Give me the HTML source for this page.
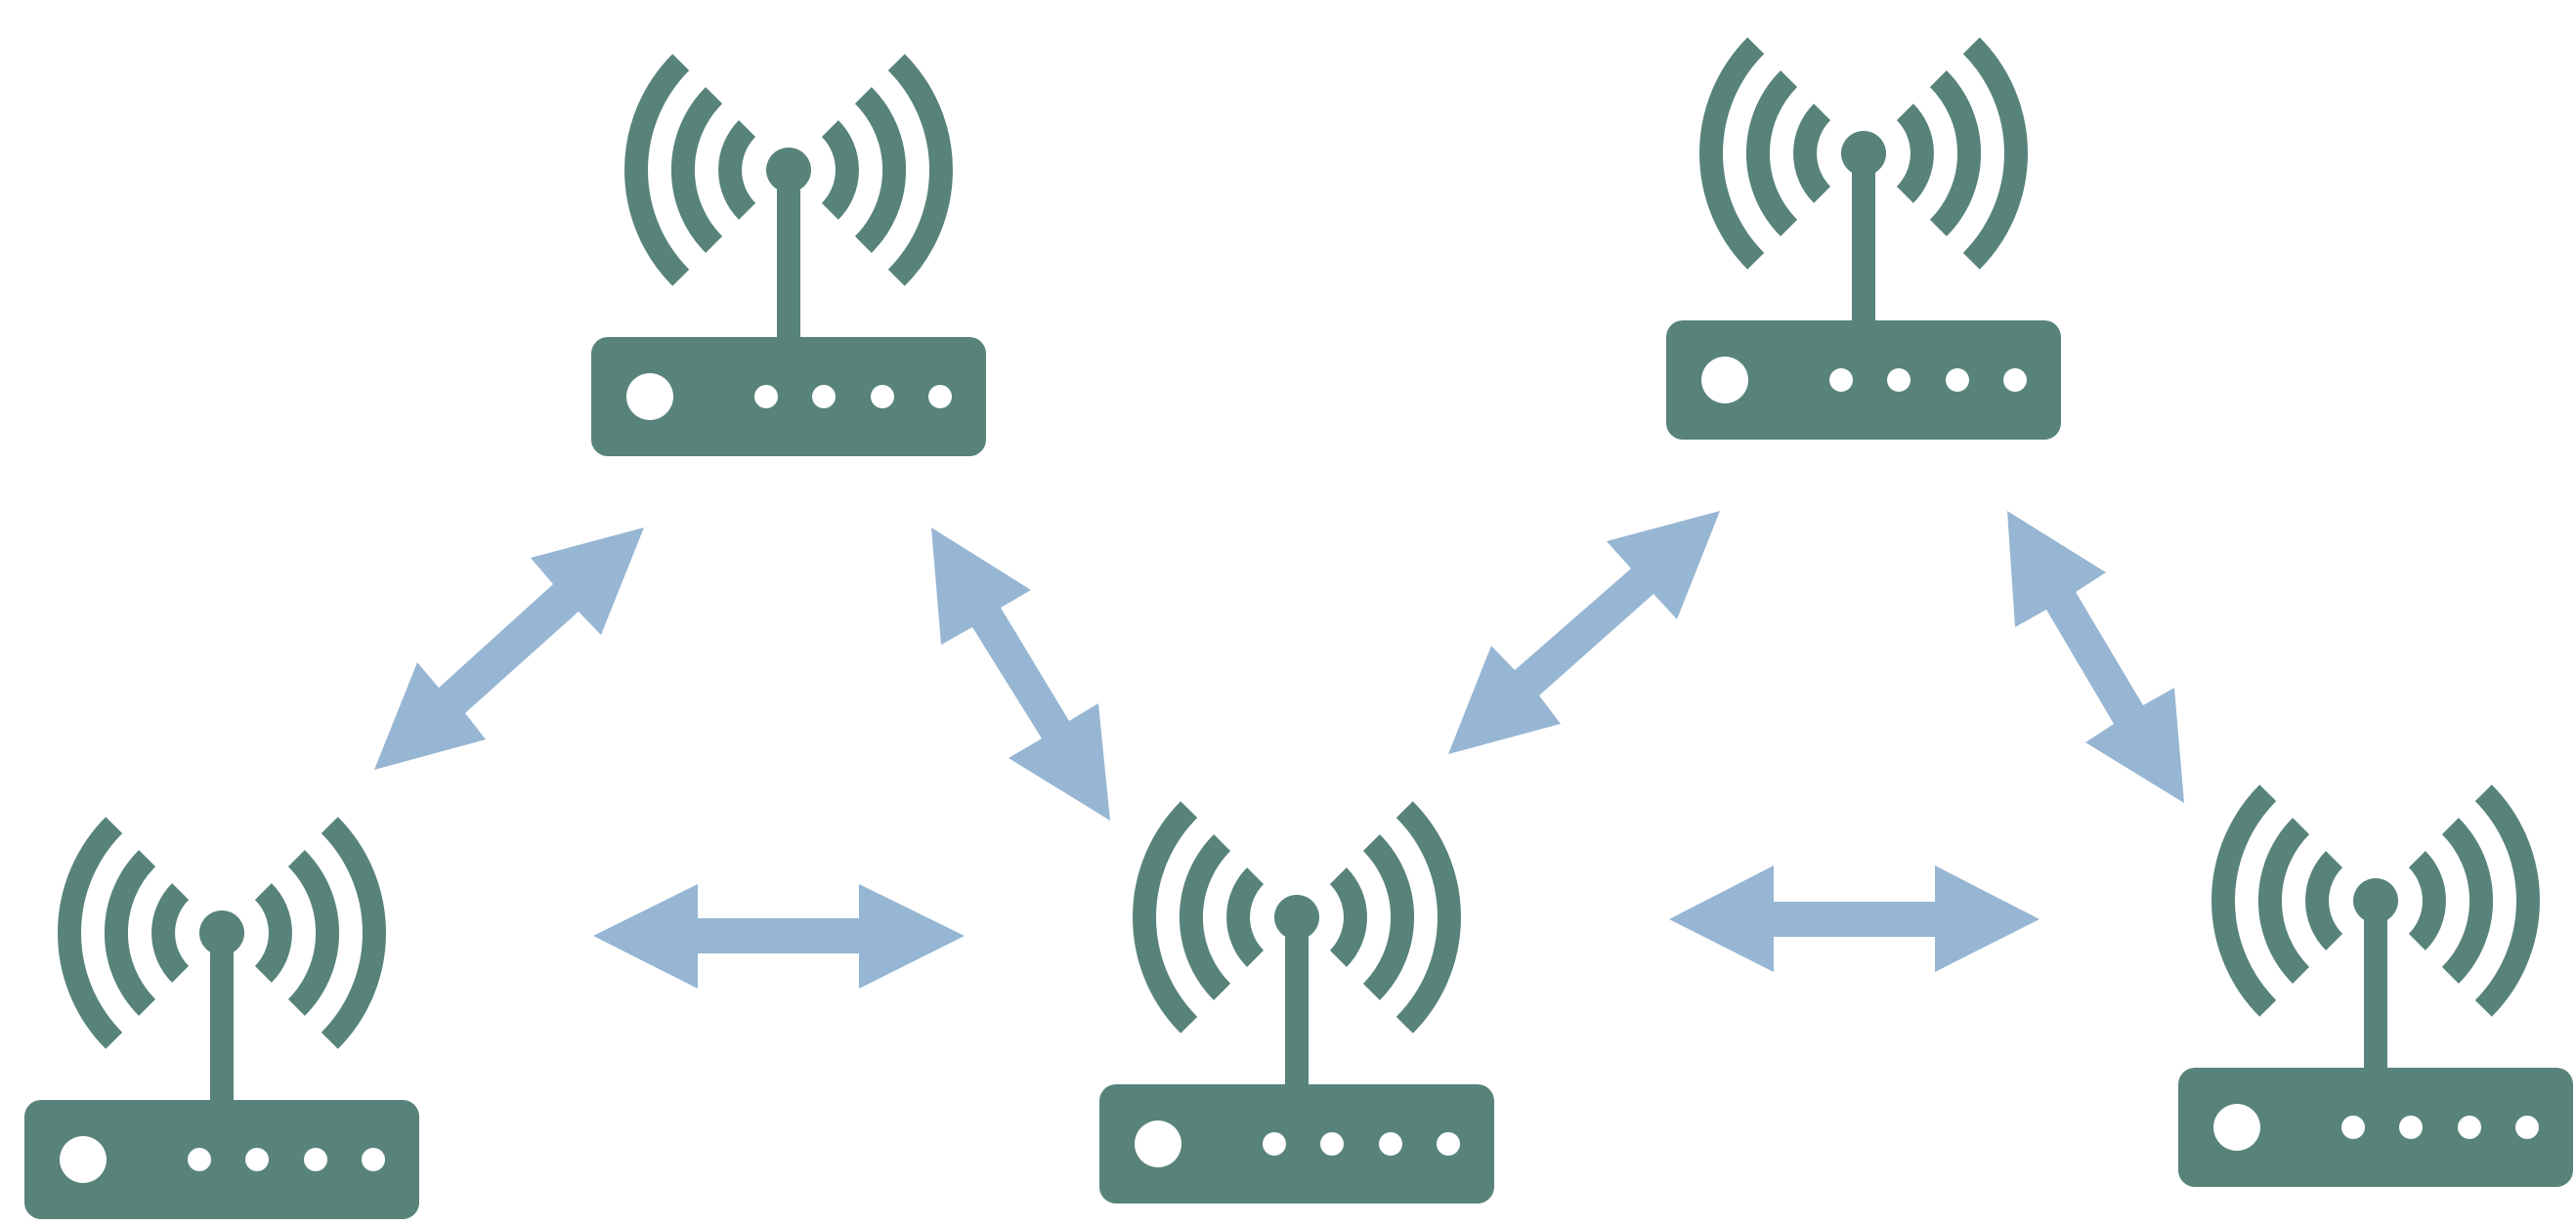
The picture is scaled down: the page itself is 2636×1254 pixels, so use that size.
<!DOCTYPE html>
<html><head><meta charset="utf-8"><style>html,body{margin:0;padding:0;background:#fff}svg{display:block}</style></head>
<body>
<svg width="2636" height="1254" viewBox="0 0 2636 1254" xmlns="http://www.w3.org/2000/svg">
<defs>
<g id="r">
<g fill="none" stroke="#57837a" stroke-width="24">
<path d="M -42.4 -213.4 A 60 60 0 0 0 -42.4 -128.6"/>
<path d="M -76.4 -247.4 A 108 108 0 0 0 -76.4 -94.6"/>
<path d="M -110.3 -281.3 A 156 156 0 0 0 -110.3 -60.7"/>
<path d="M 42.4 -213.4 A 60 60 0 0 1 42.4 -128.6"/>
<path d="M 76.4 -247.4 A 108 108 0 0 1 76.4 -94.6"/>
<path d="M 110.3 -281.3 A 156 156 0 0 1 110.3 -60.7"/>
</g>
<circle cx="0" cy="-171" r="23" fill="#57837a"/>
<rect x="-12" y="-171" width="24" height="175" fill="#57837a"/>
<rect x="-202" y="0" width="404" height="122" rx="17" fill="#57837a"/>
<circle cx="-142" cy="61" r="24" fill="#fff"/>
<circle cx="-23" cy="61" r="12" fill="#fff"/>
<circle cx="36" cy="61" r="12" fill="#fff"/>
<circle cx="96" cy="61" r="12" fill="#fff"/>
<circle cx="155" cy="61" r="12" fill="#fff"/>
</g>
</defs>
<use href="#r" x="807" y="345"/>
<use href="#r" x="1907" y="328"/>
<use href="#r" x="227" y="1126"/>
<use href="#r" x="1327" y="1110"/>
<use href="#r" x="2431" y="1093"/>
<g fill="#97b6d3">
<polygon points="659,540 615,650 592,626 476,730 497,757 383,788 427,678 449,704 566,598 543,571"/>
<polygon points="953,540 1055,604 1024,622 1094,738 1124,720 1136,840 1032,776 1066,756 995,642 963,660"/>
<polygon points="1760,523 1716,634 1692,608 1575,712 1597,741 1482,772 1526,661 1550,686 1669,582 1644,554"/>
<polygon points="2054,523 2155,586 2124,606 2193,722 2225,704 2235,822 2134,760 2163,741 2094,624 2062,642"/>
<polygon points="607,958 714,905 714,940 879,940 879,905 987,958 879,1012 879,976 714,976 714,1012"/>
<polygon points="1708,941 1815,886 1815,923 1980,923 1980,886 2087,941 1980,995 1980,959 1815,959 1815,995"/>
</g>
</svg>
</body></html>
